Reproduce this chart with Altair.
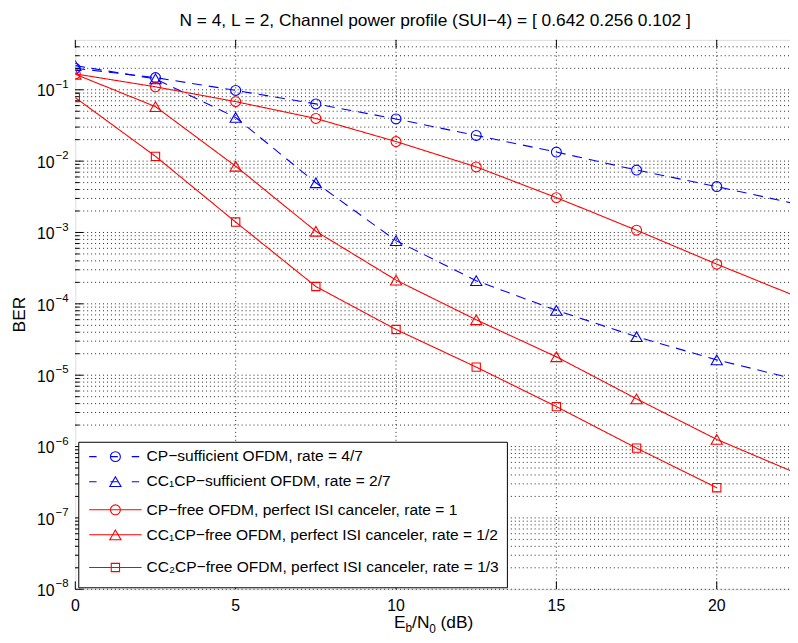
import altair as alt
import pandas as pd

# ---------------- data ----------------
snr_db = [0, 2.5, 5, 7.5, 10, 12.5, 15, 17.5, 20, 22.5]

ber_cp_sufficient = [0.200, 0.148, 0.098, 0.0634, 0.039, 0.0229, 0.0134, 0.0075, 0.0044, 0.0025]
ber_cc1_cp_sufficient = [0.218, 0.142, 0.0409, 0.00497, 0.000769, 0.000211, 8.1e-5, 3.46e-5, 1.64e-5, 8.7e-6]
ber_cp_free = [0.167, 0.110, 0.0682, 0.0396, 0.0188, 0.0083, 0.00308, 0.001076, 0.00036, 0.000126]
ber_cc1_cp_free = [0.165, 0.058, 0.00848, 0.00104, 0.000215, 5.98e-5, 1.81e-5, 4.66e-6, 1.26e-6, 4.2e-7]
ber_cc2_cp_free = [0.0775, 0.01167, 0.0014, 0.000175, 4.37e-5, 1.30e-5, 3.63e-6, 9.5e-7, 2.65e-7]

series_names = [
    "CP\u2212sufficient OFDM, rate = 4/7",
    "CC\u2081CP\u2212sufficient OFDM, rate = 2/7",
    "CP\u2212free OFDM, perfect ISI canceler, rate = 1",
    "CC\u2081CP\u2212free OFDM, perfect ISI canceler, rate = 1/2",
    "CC\u2082CP\u2212free OFDM, perfect ISI canceler, rate = 1/3",
]
series_values = [ber_cp_sufficient, ber_cc1_cp_sufficient, ber_cp_free,
                 ber_cc1_cp_free, ber_cc2_cp_free]
series_colors = ["#0000ff", "#0000ff", "#ff0000", "#ff0000", "#ff0000"]
series_markers = ["circle", "triangle-up", "circle", "triangle-up", "square"]

x_ticks = [0, 5, 10, 15, 20]
x_tick_labels = ["0", "5", "10", "15", "20"]
y_decades = [1e-1, 1e-2, 1e-3, 1e-4, 1e-5, 1e-6, 1e-7, 1e-8]
y_exponents = ["\u22121", "\u22122", "\u22123", "\u22124", "\u22125", "\u22126", "\u22127", "\u22128"]
y_minor = [k * d for d in y_decades for k in range(2, 10) if k * d < 0.45]

title_text = "N = 4, L = 2, Channel power profile (SUI\u22124) = [ 0.642 0.256 0.102 ]"

# ---------------- tables ----------------
rows = []
for name, vals, mk in zip(series_names, series_values, series_markers):
    for x, v in zip(snr_db, vals):
        rows.append({"series": name, "snr": x, "ber": v, "marker": mk})
df = pd.DataFrame(rows)
legend_df = pd.DataFrame({"series": series_names, "row": list(range(5)),
                          "marker": series_markers})
ylab_df = pd.DataFrame({"v": y_decades, "exp": y_exponents})
ymaj_df = pd.DataFrame({"v": y_decades})
yminor_df = pd.DataFrame({"v": y_minor})
yall_df = pd.DataFrame({"v": y_decades + y_minor})
xt_df = pd.DataFrame({"x": x_ticks, "lab": x_tick_labels})
xgrid_df = pd.DataFrame({"x": x_ticks[1:]})
one = pd.DataFrame({"k": [0]})

W, H = 722, 555
FONT = "Liberation Sans"
x_scale = alt.Scale(domain=[0, W / 32.4], nice=False, zero=False)
y_scale = alt.Scale(type="log", domain=[1e-8, 0.5], nice=False)
color_scale = alt.Scale(domain=series_names, range=series_colors)
dash_scale = alt.Scale(domain=series_names, range=[[10, 7], [10, 7], [1, 0], [1, 0], [1, 0]])

X = alt.X("snr:Q", scale=x_scale, axis=None)
Y = alt.Y("ber:Q", scale=y_scale, axis=None)
Yv = alt.Y("v:Q", scale=y_scale, axis=None)
Xt = alt.X("x:Q", scale=x_scale, axis=None)
C = alt.Color("series:N", scale=color_scale, legend=None)

# dotted grid (MATLAB style)
hgrid = alt.Chart(yall_df).mark_rule(color="#000", strokeWidth=1, strokeDash=[1, 3],
                                     opacity=0.85).encode(
    y=Yv, x=alt.value(0), x2=alt.value(W))
vgrid = alt.Chart(xgrid_df).mark_rule(color="#000", strokeWidth=1, strokeDash=[1, 3],
                                      opacity=0.85).encode(
    x=Xt, y=alt.value(0), y2=alt.value(H))

lines = alt.Chart(df).mark_line(strokeWidth=1.1, clip=True).encode(
    x=X, y=Y, color=C,
    strokeDash=alt.StrokeDash("series:N", scale=dash_scale, legend=None),
    order="snr:Q",
)

def marker_layer(shape, size):
    return alt.Chart(df).transform_filter(alt.datum.marker == shape).mark_point(
        shape=shape, size=size, filled=False, strokeWidth=1.1, opacity=1, clip=True
    ).encode(x=X, y=Y, color=C)

circles = marker_layer("circle", 100)
triangles = marker_layer("triangle-up", 128)
squares = marker_layer("square", 70)

# inward ticks
ytick_major = alt.Chart(ymaj_df).mark_rule(color="#000", strokeWidth=1).encode(
    y=Yv, x=alt.value(0), x2=alt.value(8))
ytick_minor = alt.Chart(yminor_df).mark_rule(color="#000", strokeWidth=1).encode(
    y=Yv, x=alt.value(0), x2=alt.value(4))
xtick_bot = alt.Chart(xt_df).mark_rule(color="#000", strokeWidth=1).encode(
    x=Xt, y=alt.value(H), y2=alt.value(H - 8))
xtick_top = alt.Chart(xt_df).mark_rule(color="#000", strokeWidth=1).encode(
    x=Xt, y=alt.value(0), y2=alt.value(8))

# tick labels
xlab = alt.Chart(xt_df).mark_text(
    font=FONT, fontSize=16, align="center", baseline="alphabetic", color="#000"
).encode(x=Xt, y=alt.value(577), text="lab:N")
ylab_base = alt.Chart(ylab_df).mark_text(
    font=FONT, fontSize=16, align="right", baseline="alphabetic", dy=6.8, color="#000"
).encode(y=Yv, x=alt.value(-21), text=alt.value("10"))
ylab_exp = alt.Chart(ylab_df).mark_text(
    font=FONT, fontSize=11.5, align="left", baseline="alphabetic", dy=-2, color="#000"
).encode(y=Yv, x=alt.value(-20), text="exp:N")

def txt(s, x, y, size, align="left", angle=0):
    return alt.Chart(one).mark_text(
        text=s, font=FONT, fontSize=size, align=align, baseline="alphabetic",
        color="#000", angle=angle
    ).encode(x=alt.value(x), y=alt.value(y))

title = txt(title_text, 363.5, -14.3, 17.5, align="center")
ytitle = txt("BER", -50.5, H / 2, 17.5, align="center", angle=270)
xtitle = [
    txt("E", 322, 593.7, 17.5),
    txt("b", 333.6, 598, 12),
    txt("/N", 340.2, 593.7, 17.5),
    txt("0", 357.6, 599, 12),
    txt("(dB)", 369, 593.7, 17.5),
]

main = alt.layer(hgrid, vgrid, lines, circles, triangles, squares, ytick_major,
                 ytick_minor, xtick_bot, xtick_top, xlab, ylab_base, ylab_exp,
                 title, ytitle, *xtitle)

# ---------------- legend (MATLAB style box) ----------------
row_scale = alt.Scale(domain=[0, 1, 2, 3, 4], range=[421, 446.3, 474.7, 500, 533])
Yrow = alt.Y("row:Q", scale=row_scale, axis=None)
leg_dash = alt.Scale(domain=series_names, range=[[7.5, 14], [7.5, 14], [1, 0], [1, 0], [1, 0]])

leg_box = alt.Chart(one).mark_rect(fill="white", stroke="black", strokeWidth=1).encode(
    x=alt.value(3.5), x2=alt.value(436.5), y=alt.value(406.5), y2=alt.value(553.5))
leg_lines = alt.Chart(legend_df).mark_rule(strokeWidth=1.1).encode(
    y=Yrow, x=alt.value(14), x2=alt.value(67), color=C,
    strokeDash=alt.StrokeDash("series:N", scale=leg_dash, legend=None))

def leg_marker(shape, size):
    return alt.Chart(legend_df).transform_filter(alt.datum.marker == shape).mark_point(
        shape=shape, size=size, filled=False, strokeWidth=1.1, opacity=1
    ).encode(y=Yrow, x=alt.value(40.5), color=C)

leg_text = alt.Chart(legend_df).mark_text(
    font=FONT, fontSize=15.7, align="left", baseline="alphabetic", dy=4.8, color="#000"
).encode(y=Yrow, x=alt.value(72), text="series:N")

legend = alt.layer(leg_box, leg_lines, leg_marker("circle", 100),
                   leg_marker("triangle-up", 128), leg_marker("square", 70), leg_text)

chart = alt.layer(main, legend).resolve_scale(
    y="independent", strokeDash="independent"
).properties(
    width=W, height=H,
    padding={"left": 68, "top": 29, "right": 0, "bottom": 45},
    autosize=alt.AutoSizeParams(type="none"),
).configure_view(stroke="black", strokeWidth=1).configure(background="white")

chart.save("out.html", embed_options={"renderer": "svg", "actions": False})
